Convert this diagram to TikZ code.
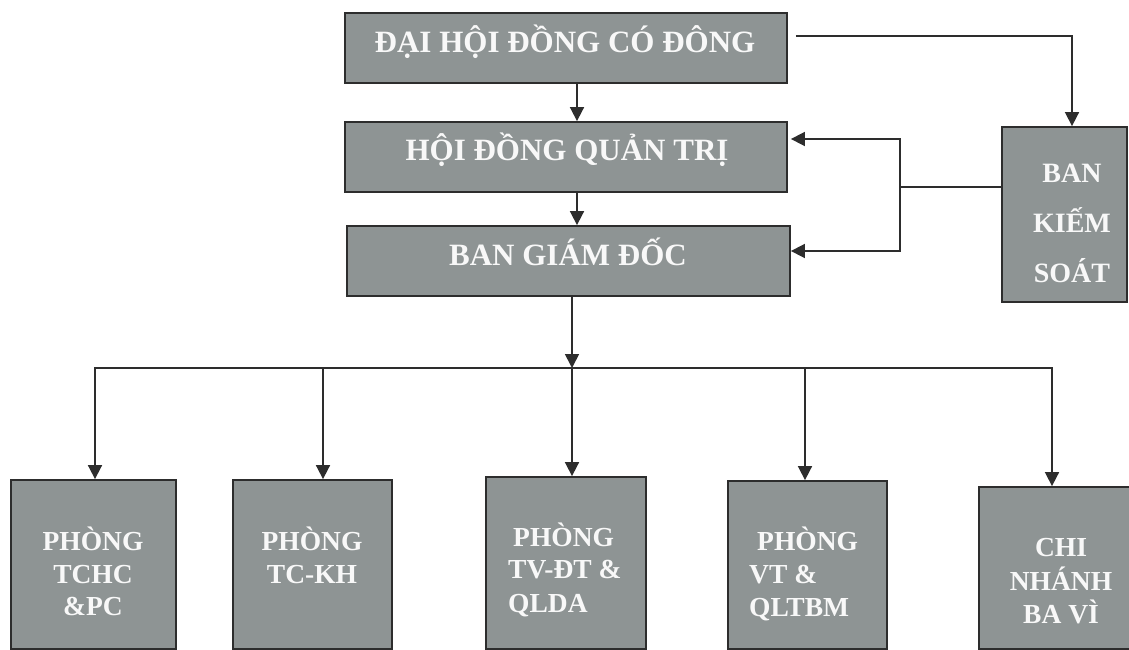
\documentclass[tikz,border=0pt]{standalone}
\usepackage{fontspec}
\setmainfont{Liberation Serif}
\usetikzlibrary{arrows.meta}
\definecolor{boxfill}{RGB}{142,148,148}
\definecolor{edge}{RGB}{45,45,45}
\definecolor{txt}{RGB}{248,248,248}
\begin{document}
\begin{tikzpicture}[x=1pt,y=-1pt,
  box/.style={draw=edge,fill=boxfill,line width=1.8pt,inner sep=0pt,rectangle},
  big/.style={text=txt,inner sep=0pt,font=\fontsize{31}{36}\selectfont\bfseries},
  mid/.style={text=txt,inner sep=0pt,font=\fontsize{28}{34}\selectfont\bfseries},
  sml/.style={text=txt,inner sep=0pt,font=\fontsize{27.5}{33}\selectfont\bfseries},
  ln/.style={draw=edge,line width=1.7pt},
  arr/.style={ln,-{Triangle[length=14pt,width=14pt]}}]
\useasboundingbox (0,0) rectangle (1129,650);
\fill[white] (0,0) rectangle (1129,650);
% boxes
\node[box,minimum width=442pt,minimum height=70pt] (dh) at (566,48) {};
\node[box,minimum width=442pt,minimum height=70pt] (hq) at (566,157) {};
\node[box,minimum width=443pt,minimum height=70pt] (bg) at (568.5,261) {};
\node[box,minimum width=125pt,minimum height=175pt] (bk) at (1064.5,214.5) {};
\node[box,minimum width=165pt,minimum height=169pt] (b1) at (93.5,564.5) {};
\node[box,minimum width=159pt,minimum height=169pt] (b2) at (312.5,564.5) {};
\node[box,minimum width=160pt,minimum height=172pt] (b3) at (566,563) {};
\node[box,minimum width=159pt,minimum height=168pt] (b4) at (807.5,565) {};
\node[box,minimum width=164pt,minimum height=162pt] (b5) at (1061,568) {};
% texts
\node[big,anchor=base] (tdh) at (565,53) {ĐẠI HỘI ĐỒNG CÓ ĐÔNG};
\node[big,anchor=base] (thq) at (567,160) {HỘI ĐỒNG QUẢN TRỊ};
\node[big,anchor=base] (tbg) at (568,265) {BAN GIÁM ĐỐC};
\node[mid,anchor=base] (tbk1) at (1072,182) {BAN};
\node[mid,anchor=base] (tbk2) at (1072,232) {KIẾM};
\node[mid,anchor=base] (tbk3) at (1072,282) {SOÁT};
\node[sml,anchor=base] (t1a) at (93,550) {PHÒNG};
\node[sml,anchor=base] (t1b) at (93,583) {TCHC};
\node[sml,anchor=base] (t1c) at (93,615) {\&PC};
\node[sml,anchor=base] (t2a) at (312,550) {PHÒNG};
\node[sml,anchor=base] (t2b) at (312,583) {TC-KH};
\node[sml,anchor=base west] (t3a) at (513,546) {PHÒNG};
\node[sml,anchor=base west] (t3b) at (508,578) {TV-ĐT \&};
\node[sml,anchor=base west] (t3c) at (508,612) {QLDA};
\node[sml,anchor=base west] (t4a) at (757,550) {PHÒNG};
\node[sml,anchor=base west] (t4b) at (749,583) {VT \&};
\node[sml,anchor=base west] (t4c) at (749,616) {QLTBM};
\node[sml,anchor=base] (t5a) at (1061,556) {CHI};
\node[sml,anchor=base] (t5b) at (1061,590) {NHÁNH};
\node[sml,anchor=base] (t5c) at (1061,623) {BA VÌ};
% connectors
\draw[arr] ([xshift=11pt]dh.south) -- ([xshift=11pt]dh.south |- hq.north);
\draw[arr] ([xshift=11pt]hq.south) -- ([xshift=11pt]hq.south |- bg.north);
\draw[arr] ([shift={(8,-12)}]dh.east) -| ([xshift=7.5pt]bk.north);
\coordinate (j) at (900,187);
\draw[ln] ([yshift=27.5pt]bk.west) -- (j);
\draw[arr] (j) |- ([shift={(3,-18)}]hq.east);
\draw[arr] (j) |- ([shift={(0,-10)}]bg.east);
\coordinate (bus) at (572,368);
\draw[arr] ([xshift=3.5pt]bg.south) -- (bus);
\draw[arr] (bus) -| ([xshift=1.5pt]b1.north);
\draw[arr] (bus) -| ([xshift=10.5pt]b2.north);
\draw[arr] (bus) -- ([xshift=6pt]b3.north);
\draw[arr] (bus) -| ([xshift=-2.5pt]b4.north);
\draw[arr] (bus) -| ([xshift=-9pt]b5.north);
\end{tikzpicture}
\end{document}
